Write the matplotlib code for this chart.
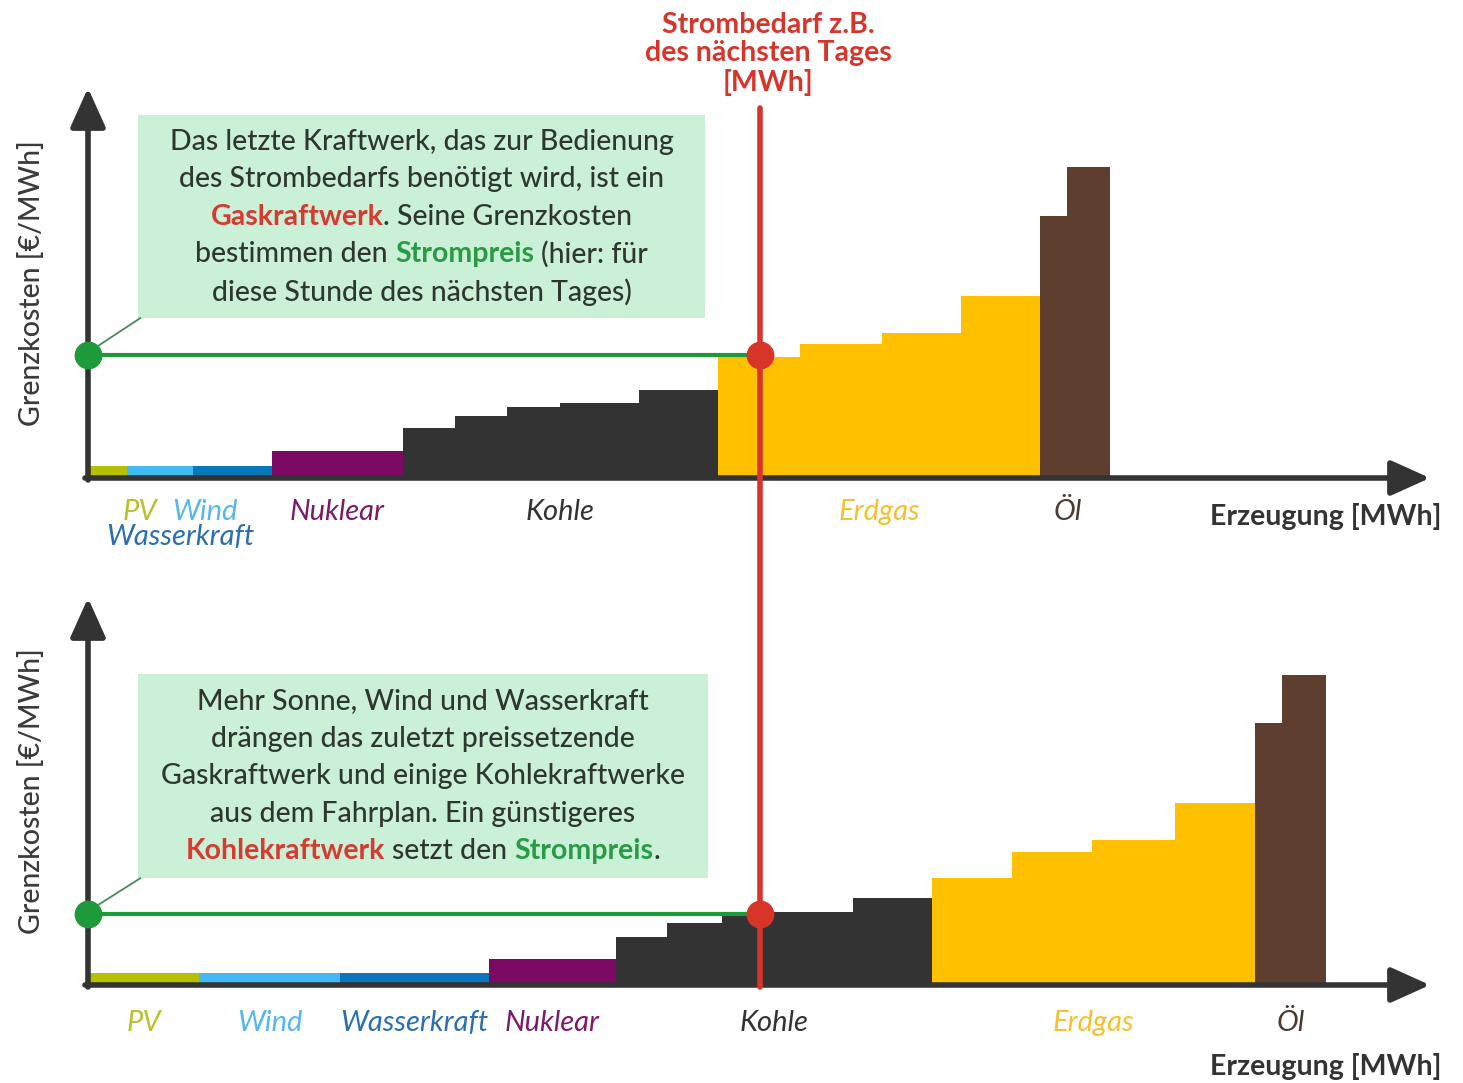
import numpy as np
import matplotlib.pyplot as plt
from matplotlib.patches import Rectangle, ConnectionPatch
from matplotlib.transforms import IdentityTransform

plt.rcParams['font.family'] = ['Lato', 'DejaVu Sans']


# merit order, technologies from cheap to expensive
techs = ['PV', 'Wind', 'Wasserkraft', 'Nuklear', 'Kohle', 'Erdgas', 'Öl']

# scenario 1: little renewables (widths = capacity, costs = marginal cost)
top_widths = [[39], [66], [79], [131], [52, 52, 53, 79, 79], [82, 82, 79, 79], [27, 43]]
top_costs  = [[12], [12], [12], [27], [50, 62, 71, 75, 88], [121, 134, 145, 182], [262, 311]]
top_price  = 123

# scenario 2: more sun, wind and water
bottom_widths = [[111], [141], [149], [127], [51, 55, 131, 79], [80, 80, 83, 80], [27, 44]]
bottom_costs  = [[12], [12], [12], [26], [48, 62, 73, 87], [107, 133, 145, 182], [262, 310]]
bottom_price  = 71

demand = 672

top_text = [
    [('Das letzte Kraftwerk, das zur Bedienung', 'txt', 'medium')],
    [('des Strombedarfs benötigt wird, ist ein', 'txt', 'medium')],
    [('Gaskraftwerk', 'red', 'bold'), ('. Seine Grenzkosten', 'txt', 'medium')],
    [('bestimmen den ', 'txt', 'medium'), ('Strompreis', 'green', 'bold'), (' (hier: für', 'txt', 'medium')],
    [('diese Stunde des nächsten Tages)', 'txt', 'medium')],
]
bottom_text = [
    [('Mehr Sonne, Wind und Wasserkraft', 'txt', 'medium')],
    [('drängen das zuletzt preissetzende', 'txt', 'medium')],
    [('Gaskraftwerk und einige Kohlekraftwerke', 'txt', 'medium')],
    [('aus dem Fahrplan. Ein günstigeres', 'txt', 'medium')],
    [('Kohlekraftwerk', 'red', 'bold'), (' setzt den ', 'txt', 'medium'),
     ('Strompreis', 'green', 'bold'), ('.', 'txt', 'medium')],
]

BAR_COLORS = ['#b5c000', '#44b8f2', '#0b76bd', '#7c0a64', '#333333', '#ffc000', '#5e3e2e']
LABEL_COLORS = ['#b9c22a', '#55b8ec', '#2a6fb0', '#7c1a6a', '#333333', '#f5c12e', '#4a3a30']
AXIS_COLOR = '#333333'
GREEN = '#1f9a3a'
RED = '#d8352a'
BOX_COLOR = '#caf1d8'
TEXT_COLORS = {'txt': '#2f362f', 'red': '#d83a30', 'green': '#2a9a45'}

W, H = 1463, 1083
fig = plt.figure(figsize=(W / 100, H / 100), dpi=100)
renderer = fig.canvas.get_renderer()


def draw_rich_line(cx, cy, segments, size):
    # draw one centred line made of differently coloured pieces (display pixels)
    probe = fig.text(0, 0, 'a a', fontsize=size, fontweight='medium', transform=IdentityTransform())
    w_sp = probe.get_window_extent(renderer).width
    probe.set_text('aa')
    w_sp -= probe.get_window_extent(renderer).width
    probe.remove()

    pieces = []
    total = 0
    for s, c, weight in segments:
        lead = len(s) - len(s.lstrip(' '))
        trail = len(s) - len(s.rstrip(' '))
        t = fig.text(0, cy, s.strip(' '), color=TEXT_COLORS[c], fontweight=weight,
                     fontsize=size, transform=IdentityTransform(), va='center', ha='left')
        w = t.get_window_extent(renderer).width
        pieces.append((t, lead * w_sp, w + (lead + trail) * w_sp))
        total += w + (lead + trail) * w_sp
    x = cx - total / 2
    for t, off, w in pieces:
        t.set_x(x + off)
        x += w


def draw_panel(ax, widths, costs, price, ytop, text_lines, box, label_dy, top_panel):
    xmax = 1342
    ax.set_xlim(0, xmax)
    ax.set_ylim(0, ytop)
    ax.axis('off')

    # supply blocks
    left = 0
    centers = []
    for i, (ws, cs) in enumerate(zip(widths, costs)):
        edges = left + np.concatenate([[0], np.cumsum(ws)[:-1]])
        ax.bar(edges, cs, width=ws, align='edge', color=BAR_COLORS[i], linewidth=0, zorder=2)
        centers.append(left + sum(ws) / 2)
        left += sum(ws)

    # axes with arrow heads
    arrow = dict(arrowstyle='-|>,head_length=1.0,head_width=0.45', mutation_scale=24,
                 lw=4, color=AXIS_COLOR, shrinkA=0, shrinkB=0)
    ax.annotate('', xy=(xmax, 0), xytext=(-3, 0), arrowprops=arrow, annotation_clip=False, zorder=4)
    ax.annotate('', xy=(0, ytop), xytext=(0, -2), arrowprops=arrow, annotation_clip=False, zorder=4)

    # price line
    ax.plot([0, demand], [price, price], color=GREEN, lw=3, zorder=5, solid_capstyle='butt')
    ax.plot(0, price, 'o', ms=19, color=GREEN, zorder=7, clip_on=False)
    ax.plot(demand, price, 'o', ms=19, color=RED, zorder=7, clip_on=False)

    # text box
    x0, y0, x1, y1 = box
    ax.add_patch(Rectangle((x0, y0), x1 - x0, y1 - y0, transform=ax.transAxes,
                           facecolor=BOX_COLOR, edgecolor='none', zorder=3))
    ax.plot([x0 + 0.002, 0.006], [y0, price / ytop + 0.02], transform=ax.transAxes,
            color='#4a8a5a', lw=1.3, zorder=4)
    cx, cy = ax.transAxes.transform(((x0 + x1) / 2, (y0 + y1) / 2))
    n = len(text_lines)
    for k, segs in enumerate(text_lines):
        draw_rich_line(cx, cy + ((n - 1) / 2 - k) * 37.5, segs, 20.5)

    # category labels
    for i, name in enumerate(techs):
        xpos, dy = centers[i], label_dy
        if top_panel:
            if name == 'PV':
                xpos = 52
            elif name == 'Wind':
                xpos = 117
            elif name == 'Wasserkraft':
                xpos, dy = 92, label_dy - 25
            elif name == 'Öl':
                xpos -= 7
        ax.annotate(name, xy=(xpos, 0), xytext=(0, dy), textcoords='offset pixels',
                    ha='center', va='center', fontsize=21, style='italic',
                    color=LABEL_COLORS[i], annotation_clip=False)

    ax.annotate('Grenzkosten [€/MWh]', xy=(0, 0.5), xycoords='axes fraction',
                xytext=(-56, 0), textcoords='offset pixels', rotation=90,
                ha='center', va='center', fontsize=20.5, fontweight='medium', color='#3a3a3a')


ax1 = fig.add_axes([88 / W, 1 - 478 / H, 1342 / W, 390 / H])
ax2 = fig.add_axes([88 / W, 1 - 985 / H, 1342 / W, 387 / H])

draw_panel(ax1, top_widths, top_costs, top_price, 390, top_text,
           (0.037, 0.41, 0.46, 0.93), -34, True)
draw_panel(ax2, bottom_widths, bottom_costs, bottom_price, 387, bottom_text,
           (0.037, 0.276, 0.462, 0.804), -38, False)

ax1.annotate('Erzeugung [MWh]', xy=(1, 0), xycoords='axes fraction', xytext=(12, -39),
             textcoords='offset pixels', ha='right', va='center', fontsize=20.5,
             fontweight='bold', color='#333333')
ax2.annotate('Erzeugung [MWh]', xy=(1, 0), xycoords='axes fraction', xytext=(12, -81),
             textcoords='offset pixels', ha='right', va='center', fontsize=20.5,
             fontweight='bold', color='#333333')

# demand line across both panels
demand_line = ConnectionPatch(xyA=(demand, 370), coordsA=ax1.transData,
                              xyB=(demand, -2), coordsB=ax2.transData,
                              color=RED, lw=4, zorder=3)
fig.add_artist(demand_line)

ax1.annotate('Strombedarf z.B.\ndes nächsten Tages\n[MWh]', xy=(demand, 390),
             xytext=(8, 34), textcoords='offset pixels', ha='center', va='center',
             fontsize=20.5, fontweight='bold', color=RED, linespacing=1.12,
             annotation_clip=False)

fig.savefig('out.png', dpi=100)
